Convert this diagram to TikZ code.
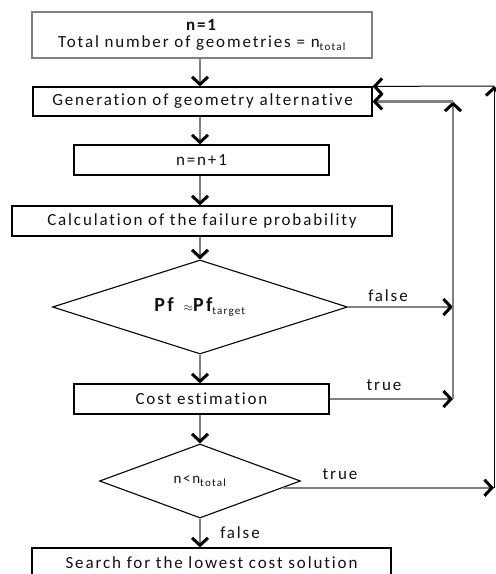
\documentclass[tikz,border=0pt]{standalone}
\usepackage{fontspec}
\setmainfont{Carlito}[LetterSpace=11,Ligatures={NoCommon}]
\usetikzlibrary{arrows.meta,shapes.geometric,calc}
\definecolor{linegray}{HTML}{808080}
\definecolor{txt}{HTML}{101018}
\tikzset{
  box/.style={draw=black, line width=1.2pt, rectangle, inner sep=0pt, font=\fontsize{17}{19}\selectfont, text=txt, align=center},
  grayboxstyle/.style={box, draw=linegray, line width=2.2pt},
  decision/.style={draw=black, line width=1.1pt, diamond, inner sep=0pt, text=txt},
  tip/.style={-{Straight Barb[length=7.5pt,width=16pt,line width=3pt,color=black]}},
  arr/.style={draw=linegray, line width=2.4pt, tip},
  thinarr/.style={draw=black, line width=1pt, tip},
  lbl/.style={font=\fontsize{17}{19}\selectfont, text=txt, inner sep=0pt}
}
\begin{document}
\begin{tikzpicture}[x=1pt,y=-1pt]
\useasboundingbox (0,0) rectangle (496,574);
\node[grayboxstyle, minimum width=340pt, minimum height=46pt] (b1) at (202,35)
  {\textbf{n=1}\\[-2pt]Total number of geometries = n\textsubscript{\fontsize{11}{12}\selectfont total}};
\node[box, minimum width=339pt, minimum height=29pt] (b2) at (202.5,101.5) {Generation of geometry alternative};
\node[box, minimum width=255pt, minimum height=30pt] (b3) at (201.5,160) {n=n+1};
\node[box, minimum width=380pt, minimum height=30pt] (b4) at (202,221) {Calculation of the failure probability};
\node[decision, minimum width=295pt, minimum height=94pt, aspect=3.1, font=\fontsize{20}{22}\selectfont\bfseries] (d1) at (200,307)
  {Pf\enspace{\mdseries\fontsize{12}{13}\selectfont$\approx$}Pf\textsubscript{\mdseries\fontsize{11}{12}\selectfont target}};
\node[box, minimum width=255pt, minimum height=30pt] (b5) at (201.5,399) {Cost estimation};
\node[decision, minimum width=201pt, minimum height=74pt, aspect=2.7, font=\fontsize{15}{17}\selectfont] (d2) at (200,481)
  {n<n\textsubscript{\fontsize{11}{12}\selectfont total}};
\node[box, minimum width=359pt, minimum height=30pt] (b6) at (211.5,563) {Search for the lowest cost solution};

\coordinate (f1) at (453,309);
\coordinate (t1) at (453,399);
\coordinate (up1) at (453,101.5);
\coordinate (t2) at (494,488);
\coordinate (up2) at (494,86);
\coordinate (d2out) at ($(d2.east)!0.18!(d2.south)$);

\draw[arr] (b1.south -| d1.north) -- (b2.north -| d1.north);
\draw[arr] (b2.south -| d1.north) -- (b3.north -| d1.north);
\draw[arr] (b3.south -| d1.north) -- (b4.north -| d1.north);
\draw[arr] (b4.south -| d1.north) -- (d1.north);
\draw[arr] (d1.south) -- (b5.north -| d1.south);
\draw[arr] (b5.south -| d2.north) -- (d2.north);
\draw[arr] (d2.south) -- (b6.north -| d2.south);

\draw[arr] (d1.east) -- (d1.east -| f1);
\draw[arr] (b5.east) -- (t1);
\draw[arr] (t1) -- (up1);
\draw[arr] (up1) -- (b2.east);

\draw[arr] (d2out) -- (d2out -| t2);
\draw[thinarr] (t2) -- (up2);
\draw[thinarr] (up2) -- (b2.north east);

\node[lbl] (lf1) at (388,296) {false};
\node[lbl] (lt1) at (384,385) {true};
\node[lbl] (lt2) at (340,474) {true};
\node[lbl] (lf2) at (240,533) {false};
\end{tikzpicture}
\end{document}
